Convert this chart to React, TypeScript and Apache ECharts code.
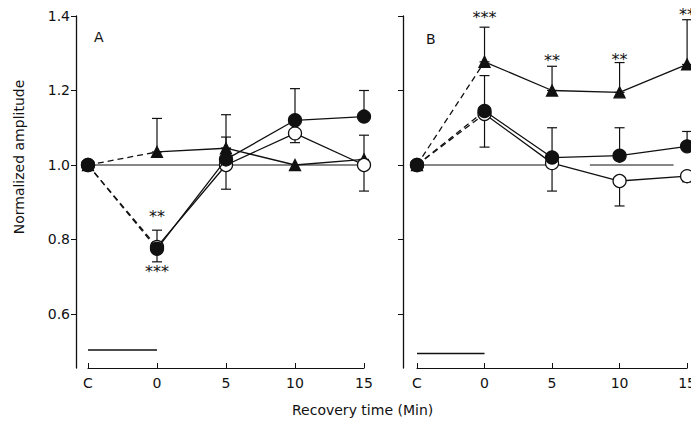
import { useEffect, useRef } from 'react'
import * as echarts from 'echarts'

// x: -5 stands for "C"
const xs = [-5, 0, 5, 10, 15]
const yTicks = [0.6, 0.8, 1.0, 1.2, 1.4]

// panel A
const aFilled = [1.0, 0.775, 1.015, 1.12, 1.13]
const aOpen = [1.0, 0.78, 1.0, 1.085, 1.0]
const aTri = [1.0, 1.035, 1.045, 1.0, 1.015]
const aErr = [
  [0, 0.74, 0.825], [10, 1.12, 1.205], [15, 1.13, 1.2],
  [5, 0.935, 1.0], [10, 1.06, 1.085], [15, 0.93, 1.0],
  [0, 1.035, 1.125], [5, 1.045, 1.135], [5, 1.045, 1.075], [15, 1.015, 1.08],
]
const aStars = [[0, 0.862, '**'], [0, 0.713, '***']]

// panel B
const bFilled = [1.0, 1.145, 1.02, 1.025, 1.05]
const bOpen = [1.0, 1.137, 1.005, 0.957, 0.97]
const bTri = [1.0, 1.277, 1.2, 1.195, 1.27]
const bErr = [
  [0, 1.277, 1.37], [5, 1.2, 1.265], [10, 1.195, 1.275], [15, 1.27, 1.39],
  [0, 1.145, 1.24], [5, 1.02, 1.1], [10, 1.025, 1.1], [15, 1.05, 1.09],
  [0, 1.048, 1.137], [5, 0.93, 1.005], [10, 0.89, 0.957], [15, 0.955, 0.97],
]
const bStars = [[0, 1.395, '***'], [5, 1.28, '**'], [10, 1.283, '**'], [15, 1.405, '**']]

const aBase = [[[-5, 1.0], [15, 1.0]]]
const bBase = [[[-5, 1.0], [5, 1.0]], [[7.8, 1.0], [14, 1.0]]]
const aBar = [[-5, 0.503], [0, 0.503]]
const bBar = [[-5, 0.494], [0, 0.494]]

const ink = '#111'
const font = 'DejaVu Sans'

function panel(i: number, filled: number[], open: number[], tri: number[], err: number[][], stars: any[], base: number[][][], bar: number[][]) {
  const ax = { xAxisIndex: i, yAxisIndex: i }
  const pts = (v: number[], from: number, to: number) => xs.slice(from, to).map((x, k) => [x, v[from + k]])
  const line = (v: number[], symbol: string, size: number, color: string, z: number) => [
    { type: 'line', ...ax, data: pts(v, 0, 2), symbol: 'none', lineStyle: { color: ink, width: 1.3, type: [6, 4] }, z },
    { type: 'line', ...ax, data: pts(v, 1, 5), symbol: 'none', lineStyle: { color: ink, width: 1.3 }, z },
    { type: 'scatter', ...ax, data: pts(v, 0, 5), symbol, symbolSize: size, itemStyle: { color, opacity: 1, borderColor: ink, borderWidth: 1.3 }, z: z + 1 },
  ]
  const out: any[] = []
  base.forEach((seg) => out.push({ type: 'line', ...ax, data: seg, symbol: 'none', lineStyle: { color: ink, width: 1.2 }, z: 1 }))
  out.push({ type: 'line', ...ax, data: bar, symbol: 'none', lineStyle: { color: ink, width: 1.5 }, z: 1 })
  out.push({
    type: 'custom', ...ax, data: err, z: 2,
    renderItem: (_p: any, api: any) => {
      const lo = api.coord([api.value(0), api.value(1)])
      const hi = api.coord([api.value(0), api.value(2)])
      return {
        type: 'group',
        children: [
          { type: 'line', shape: { x1: lo[0], y1: lo[1], x2: hi[0], y2: hi[1] }, style: { stroke: ink, lineWidth: 1.2 } },
          { type: 'line', shape: { x1: hi[0] - 5, y1: hi[1], x2: hi[0] + 5, y2: hi[1] }, style: { stroke: ink, lineWidth: 1.2 } },
          { type: 'line', shape: { x1: lo[0] - 5, y1: lo[1], x2: lo[0] + 5, y2: lo[1] }, style: { stroke: ink, lineWidth: 1.2 } },
        ],
      }
    },
  })
  out.push(...line(tri, 'triangle', 11, ink, 3))
  out.push(...line(open, 'circle', 13, '#fff', 5))
  out.push(...line(filled, 'circle', 13, ink, 7))
  out.push({
    type: 'custom', ...ax, data: stars, z: 10,
    renderItem: (p: any, api: any) => {
      const c = api.coord([api.value(0), api.value(1)])
      return {
        type: 'text', x: c[0], y: c[1],
        style: { text: stars[p.dataIndex][2], fill: ink, font: `16px ${font}`, align: 'center', verticalAlign: 'middle' },
      }
    },
  })
  return out
}

export default function App() {
  const ref = useRef<HTMLDivElement>(null)
  useEffect(() => {
    if (!ref.current) return
    const chart = echarts.init(ref.current, null, { renderer: 'svg' })
    const xAxis = (left: boolean) => ({
      type: 'value', min: -5, max: 15, interval: 5, gridIndex: left ? 0 : 1,
      splitLine: { show: false },
      axisLine: { onZero: false, lineStyle: { color: ink, width: 1.2 } },
      axisTick: { inside: true, length: 5, lineStyle: { color: ink } },
      axisLabel: { formatter: (v: number) => (v === -5 ? 'C' : String(v)), color: ink, fontFamily: font, fontSize: 14, margin: 8 },
    })
    const yAxis = (left: boolean) => ({
      type: 'value', min: 0.455, max: 1.4, gridIndex: left ? 0 : 1, offset: left ? 12 : 14,
      splitLine: { show: false },
      axisLine: { show: true, onZero: false, lineStyle: { color: ink, width: 1.3 } },
      axisTick: { length: 5, customValues: yTicks, lineStyle: { color: ink } },
      axisLabel: { show: left, customValues: yTicks, formatter: (v: number) => v.toFixed(1), color: ink, fontFamily: font, fontSize: 14, margin: 6 },
      name: left ? 'Normalized amplitude' : '', nameLocation: 'middle', nameGap: 50, nameRotate: 90,
      nameTextStyle: { color: ink, fontFamily: font, fontSize: 14, padding: [0, 0, 0, 70] },
    })
    chart.setOption({
      animation: false,
      grid: [
        { left: 88, top: 16, width: 276, height: 352 },
        { left: 417, top: 16, width: 278, height: 352 },
      ],
      xAxis: [xAxis(true), xAxis(false)],
      yAxis: [yAxis(true), yAxis(false)],
      graphic: [
        { type: 'text', left: 94, top: 30, style: { text: 'A', fill: ink, font: `14px ${font}` } },
        { type: 'text', left: 426, top: 32, style: { text: 'B', fill: ink, font: `14px ${font}` } },
        { type: 'text', left: 292, top: 403, style: { text: 'Recovery time (Min)', fill: ink, font: `14px ${font}` } },
      ],
      series: [
        ...panel(0, aFilled, aOpen, aTri, aErr, aStars, aBase, aBar),
        ...panel(1, bFilled, bOpen, bTri, bErr, bStars, bBase, bBar),
      ],
    })
    return () => chart.dispose()
  }, [])
  return <div ref={ref} style={{ width: 699, height: 425, marginLeft: -8, marginTop: -8 }} />
}
